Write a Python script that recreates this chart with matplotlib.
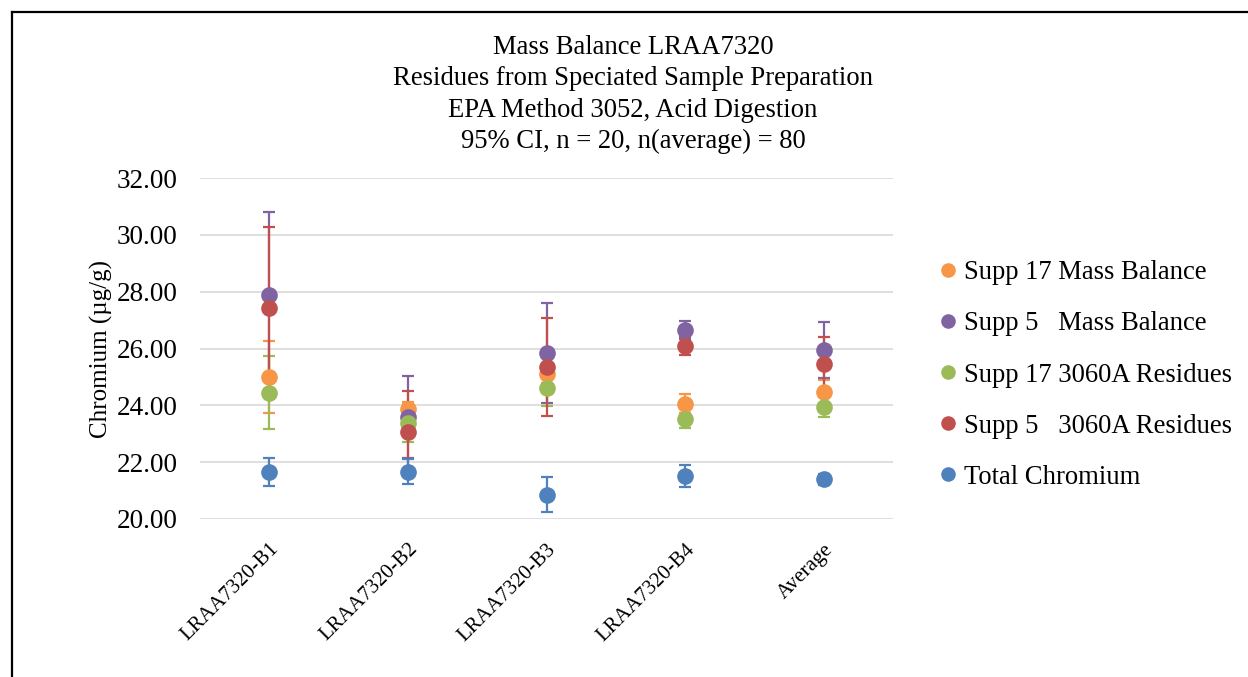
import numpy as np
import matplotlib
matplotlib.use('Agg')
import matplotlib.pyplot as plt
from matplotlib.lines import Line2D

plt.rcParams['font.family'] = ['Liberation Serif', 'DejaVu Serif']

categories = ['LRAA7320-B1', 'LRAA7320-B2', 'LRAA7320-B3', 'LRAA7320-B4', 'Average']

series_names = ['Supp 17 Mass Balance', 'Supp 5   Mass Balance', 'Supp 17 3060A Residues',
                'Supp 5   3060A Residues', 'Total Chromium']
series_colors = ['#F79646', '#8064A2', '#9BBB59', '#C0504D', '#4F81BD']

supp17_mb = [25.00, 23.87, 25.09, 24.06, 24.48]
supp17_mb_ci = [1.26, 0.25, 0.30, 0.33, 0.41]
supp5_mb = [27.89, 23.60, 25.84, 26.65, 25.94]
supp5_mb_ci = [2.90, 1.44, 1.75, 0.33, 0.99]
supp17_res = [24.45, 23.39, 24.60, 23.53, 23.95]
supp17_res_ci = [1.27, 0.67, 0.62, 0.34, 0.35]
supp5_res = [27.44, 23.05, 25.35, 26.10, 25.44]
supp5_res_ci = [2.85, 1.45, 1.72, 0.32, 0.98]
total_cr = [21.64, 21.66, 20.85, 21.52, 21.40]
total_cr_ci = [0.49, 0.44, 0.62, 0.38, 0.20]

values = [supp17_mb, supp5_mb, supp17_res, supp5_res, total_cr]
errors = [supp17_mb_ci, supp5_mb_ci, supp17_res_ci, supp5_res_ci, total_cr_ci]

fig = plt.figure(figsize=(12.48, 6.77), dpi=100)
ax = fig.add_axes([200 / 1248, 1 - 519 / 677, 693 / 1248, 341 / 677])

x = np.arange(len(categories))
for vals, errs, col in zip(values, errors, series_colors):
    # error bars below all the markers
    ax.errorbar(x, vals, yerr=errs, fmt='none', ecolor=col, elinewidth=1.6,
                capsize=4.5, capthick=1.6, zorder=2)
for vals, col in zip(values, series_colors):
    ax.plot(x, vals, 'o', color=col, ms=12, mec='none', zorder=3)

ax.set_xlim(-0.5, len(categories) - 0.5)
ax.set_ylim(20, 32)
ax.set_yticks(np.arange(20, 32.01, 2))
ax.set_yticklabels(['%.2f' % v for v in np.arange(20, 32.01, 2)], fontsize=19.5)
ax.set_xticks(x)
ax.set_xticklabels(categories, fontsize=15, rotation=45, ha='right', rotation_mode='anchor')
ax.tick_params(axis='y', length=0, pad=16)
ax.tick_params(axis='x', length=0, pad=15)
ax.grid(axis='y', color='#D9D9D9', linewidth=1.2)
ax.set_axisbelow(True)
for s in ax.spines.values():
    s.set_visible(False)
ax.set_ylabel('Chromium (µg/g)', fontsize=18, labelpad=3)

fig.text(633 / 1248, 1 - 35 / 677,
         'Mass Balance LRAA7320\nResidues from Speciated Sample Preparation\n'
         'EPA Method 3052, Acid Digestion\n95% CI, n = 20, n(average) = 80',
         ha='center', va='top', fontsize=19.2, linespacing=1.33)

handles = [Line2D([], [], marker='o', ls='none', color=c, ms=10.5, mec='none') for c in series_colors]
fig.legend(handles, series_names, loc='center left', bbox_to_anchor=(921 / 1248, 1 - 375 / 677),
           frameon=False, fontsize=19.2, handletextpad=0.0, labelspacing=0.98, handlelength=1.2,
           borderaxespad=0)

# outer chart frame
fig.add_artist(Line2D([11.5 / 1248, 11.5 / 1248], [0, 1 - 11.5 / 677], color='black', lw=1.6))
fig.add_artist(Line2D([11.5 / 1248, 1], [1 - 11.5 / 677, 1 - 11.5 / 677], color='black', lw=1.6))

fig.savefig('out.png', dpi=100)
